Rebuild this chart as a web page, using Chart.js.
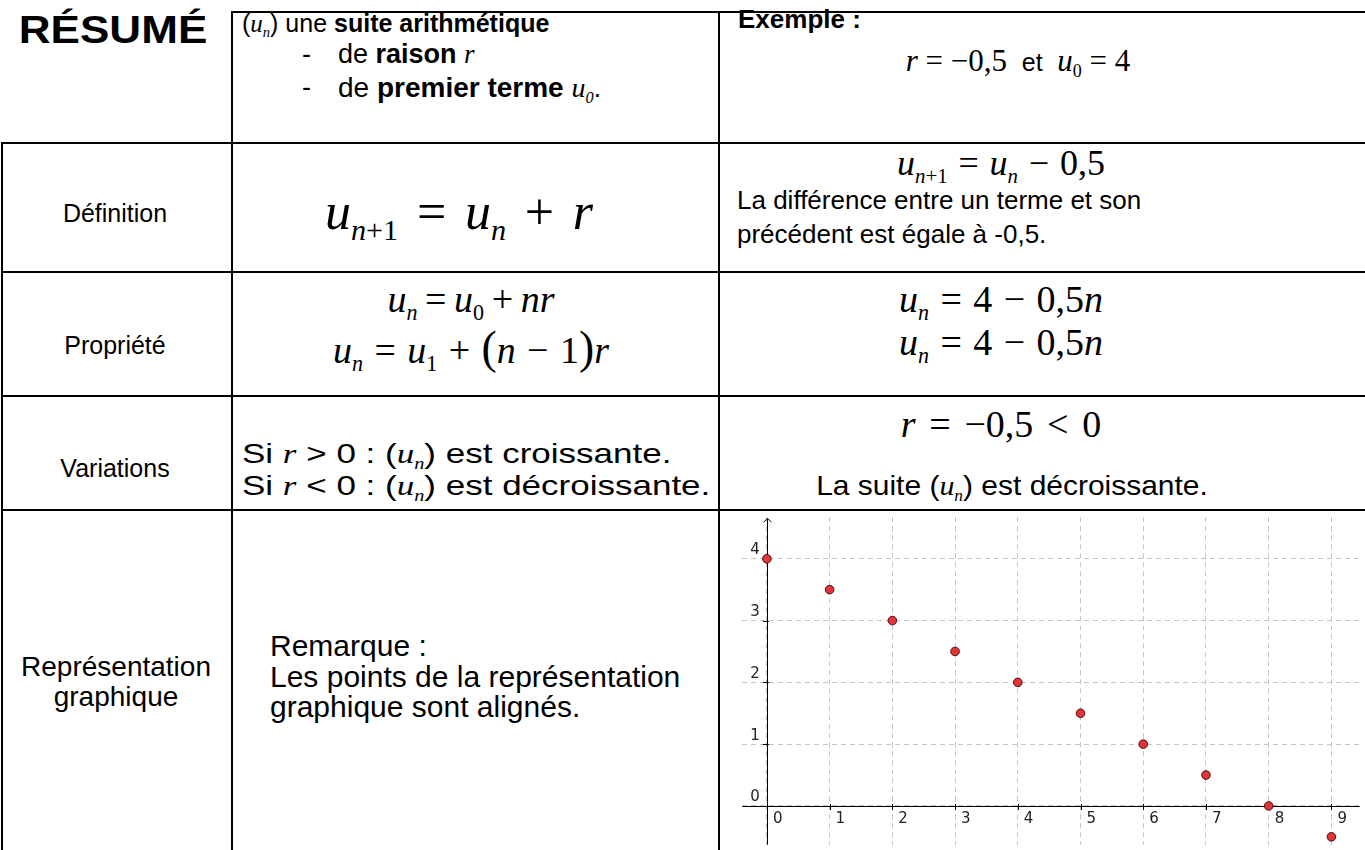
<!DOCTYPE html>
<html><head><meta charset="utf-8">
<script src="https://cdn.jsdelivr.net/npm/chart.js@4.4.0/dist/chart.umd.min.js"></script>
<style>
html,body{margin:0;padding:0;background:#fff;width:1365px;height:850px;overflow:hidden;}
body{position:relative;font-family:"Liberation Sans",Arial,sans-serif;color:#000;}
.ln{position:absolute;background:#000;}
.t{position:absolute;white-space:nowrap;font-size:25px;line-height:1;}
.c{transform:translateX(-50%);}
.m{font-family:"Liberation Serif","Times New Roman",serif;}
.m i,.mi{font-family:"Liberation Serif","Times New Roman",serif;font-style:italic;}
sub{font-size:58%;vertical-align:-0.36em;line-height:0;}
.sans{font-family:"Liberation Sans",Arial,sans-serif;}
.o{padding:0 .3em;}
.o1{padding:0 .2em;}
.o2{padding:0 .36em;}
b{font-weight:bold;}
#chartBox{position:absolute;left:737px;top:512px;width:628px;height:338px;}
</style></head>
<body>
<!-- table lines -->
<div class="ln" style="left:232px;top:11px;width:1133px;height:2px"></div>
<div class="ln" style="left:231px;top:11px;width:2px;height:839px"></div>
<div class="ln" style="left:718px;top:11px;width:2px;height:839px"></div>
<div class="ln" style="left:1px;top:142px;width:2px;height:708px"></div>
<div class="ln" style="left:1px;top:142px;width:1364px;height:2px"></div>
<div class="ln" style="left:1px;top:271px;width:1364px;height:2px"></div>
<div class="ln" style="left:1px;top:395px;width:1364px;height:2px"></div>
<div class="ln" style="left:1px;top:509px;width:1364px;height:2px"></div>

<!-- header -->
<div class="t" style="left:113px;top:10px;font-size:39px;font-weight:bold;transform:translateX(-50%) scaleX(1.13)">RÉSUMÉ</div>
<div class="t" style="left:242px;top:11px">(<span class="mi">u<sub>n</sub></span>) une <b>suite arithmétique</b></div>
<div class="t" style="left:302px;top:41px;font-size:27px">-</div>
<div class="t" style="left:338px;top:41px;font-size:27px">de <b>raison</b> <span class="mi">r</span></div>
<div class="t" style="left:302px;top:74px;font-size:27px">-</div>
<div class="t" style="left:338px;top:74px;font-size:28px">de <b>premier terme</b> <span class="mi">u<sub>0</sub></span>.</div>
<div class="t" style="left:738px;top:6px;font-weight:bold;font-size:26px">Exemple :</div>
<div class="t c m" style="left:1018px;top:45px;font-size:31px"><i>r</i> = −0,5 <span class="sans" style="font-size:25px">&nbsp;et&nbsp;</span> <i>u</i><sub>0</sub> = 4</div>

<!-- Définition -->
<div class="t c" style="left:115px;top:201px;font-size:25px">Définition</div>
<div class="t c m" style="left:459px;top:186px;font-size:52px"><i>u</i><sub><i>n</i>+1</sub><span class="o2">=</span><i>u</i><sub><i>n</i></sub><span class="o2">+</span><i>r</i></div>
<div class="t c m" style="left:1001px;top:145px;font-size:36px"><i>u</i><sub><i>n</i>+1</sub><span class="o">=</span><i>u</i><sub><i>n</i></sub><span class="o">−</span>0,5</div>
<div class="t" style="left:737px;top:187px;font-size:26px">La différence entre un terme et son</div>
<div class="t" style="left:737px;top:221px;font-size:26px">précédent est égale à -0,5.</div>

<!-- Propriété -->
<div class="t c" style="left:115px;top:333px;font-size:25px">Propriété</div>
<div class="t c m" style="left:471px;top:280px;font-size:38px"><i>u</i><sub><i>n</i></sub><span class="o1">=</span><i>u</i><sub>0</sub><span class="o1">+</span><i>nr</i></div>
<div class="t c m" style="left:471px;top:325px;font-size:38px"><i>u</i><sub><i>n</i></sub><span class="o">=</span><i>u</i><sub>1</sub><span class="o">+</span><span style="font-size:120%">(</span><i>n</i><span class="o">−</span>1<span style="font-size:120%">)</span><i>r</i></div>
<div class="t c m" style="left:1001px;top:280px;font-size:38px"><i>u</i><sub><i>n</i></sub><span class="o">=</span>4<span class="o">−</span>0,5<i>n</i></div>
<div class="t c m" style="left:1001px;top:323px;font-size:38px"><i>u</i><sub><i>n</i></sub><span class="o">=</span>4<span class="o">−</span>0,5<i>n</i></div>

<!-- Variations -->
<div class="t c" style="left:115px;top:456px;font-size:25px">Variations</div>
<div class="t" style="left:242px;top:440px;font-size:28px;transform-origin:0 0;transform:scaleX(1.25)">Si <span class="mi">r</span> &gt; 0 : (<span class="mi">u<sub>n</sub></span>) est croissante.</div>
<div class="t" style="left:242px;top:472px;font-size:28px;transform-origin:0 0;transform:scaleX(1.25)">Si <span class="mi">r</span> &lt; 0 : (<span class="mi">u<sub>n</sub></span>) est décroissante.</div>
<div class="t c m" style="left:1001px;top:405px;font-size:38px"><i>r</i><span class="o2">=</span>−0,5<span class="o2">&lt;</span>0</div>
<div class="t" style="left:1012px;top:472px;font-size:28px;transform:translateX(-50%) scaleX(1.07)">La suite (<span class="mi">u<sub>n</sub></span>) est décroissante.</div>

<!-- Représentation -->
<div class="t c" style="left:116px;top:653px;font-size:28px">Représentation</div>
<div class="t c" style="left:116px;top:683px;font-size:28px">graphique</div>
<div class="t" style="left:270px;top:631px;font-size:30px">Remarque :</div>
<div class="t" style="left:270px;top:662px;font-size:30px">Les points de la représentation</div>
<div class="t" style="left:270px;top:692px;font-size:30px">graphique sont alignés.</div>

<div id="chartBox"><canvas id="c" width="628" height="338"></canvas></div>

<script>
// ---- data ----
const nValues = [0, 1, 2, 3, 4, 5, 6, 7, 8, 9];
const uValues = [4, 3.5, 3, 2.5, 2, 1.5, 1, 0.5, 0, -0.5];
const xTickValues = [0, 1, 2, 3, 4, 5, 6, 7, 8, 9];
const xTickLabels = ['0', '1', '2', '3', '4', '5', '6', '7', '8', '9'];
const yTickValues = [0, 1, 2, 3, 4];
const yTickLabels = ['0', '1', '2', '3', '4'];
const xRange = [-0.392, 9.451];
const yRange = [-0.627, 4.671];

const points = nValues.map((n, i) => ({ x: n, y: uValues[i] }));

const geoAxes = {
  id: 'geoAxes',
  beforeDatasetsDraw(chart) {
    const ctx = chart.ctx;
    const xs = chart.scales.x, ys = chart.scales.y;
    const area = chart.chartArea;
    const ax = xs.getPixelForValue(0);
    const ay = ys.getPixelForValue(0);
    ctx.save();
    ctx.strokeStyle = '#000';
    ctx.lineWidth = 1;
    ctx.setLineDash([]);
    ctx.beginPath();
    ctx.moveTo(area.left, Math.round(ay) + 0.5);
    ctx.lineTo(area.right, Math.round(ay) + 0.5);
    ctx.stroke();
    ctx.beginPath();
    ctx.moveTo(Math.round(ax) + 0.5, area.bottom);
    ctx.lineTo(Math.round(ax) + 0.5, area.top + 1);
    ctx.stroke();
    ctx.beginPath();
    ctx.moveTo(Math.round(ax) - 3.5, area.top + 5);
    ctx.lineTo(Math.round(ax) + 0.5, area.top + 1);
    ctx.lineTo(Math.round(ax) + 4.5, area.top + 5);
    ctx.stroke();
    xTickValues.forEach(v => {
      if (v === 0) return;
      const px = Math.round(xs.getPixelForValue(v)) + 0.5;
      ctx.beginPath();
      ctx.moveTo(px, ay - 2);
      ctx.lineTo(px, ay + 4);
      ctx.stroke();
    });
    yTickValues.forEach(v => {
      if (v === 0) return;
      const py = Math.round(ys.getPixelForValue(v)) + 0.5;
      ctx.beginPath();
      ctx.moveTo(ax - 4, py);
      ctx.lineTo(ax + 2, py);
      ctx.stroke();
    });
    ctx.fillStyle = '#222';
    ctx.font = '15px "DejaVu Sans", sans-serif';
    ctx.textAlign = 'left';
    ctx.textBaseline = 'top';
    xTickValues.forEach((v, i) => {
      const px = xs.getPixelForValue(v);
      ctx.fillText(xTickLabels[i], px + 6, ay + 6);
    });
    ctx.textAlign = 'right';
    ctx.textBaseline = 'bottom';
    yTickValues.forEach((v, i) => {
      const py = ys.getPixelForValue(v);
      ctx.fillText(yTickLabels[i], ax - 7, py - 1);
    });
    ctx.restore();
  }
};

const gridOpts = (vals) => ({
  display: true,
  ticks: { display: false },
  grid: { color: '#c4c4c4', lineWidth: 1, drawTicks: false },
  border: { display: false, dash: [5, 4] },
  afterBuildTicks: (scale) => { scale.ticks = vals.map(v => ({ value: v })); }
});

const xOpts = Object.assign(gridOpts(xTickValues), { type: 'linear', min: xRange[0], max: xRange[1] });
const yOpts = Object.assign(gridOpts(yTickValues), { type: 'linear', min: yRange[0], max: yRange[1] });

new Chart(document.getElementById('c'), {
  type: 'scatter',
  data: {
    datasets: [{
      label: 'u_n',
      data: points,
      backgroundColor: '#e3343a',
      borderColor: '#4a0c0c',
      borderWidth: 1,
      pointRadius: 4.3,
      clip: false
    }]
  },
  options: {
    responsive: false,
    animation: false,
    devicePixelRatio: 1,
    layout: { padding: 0 },
    plugins: { legend: { display: false }, tooltip: { enabled: false } },
    scales: { x: xOpts, y: yOpts }
  },
  plugins: [geoAxes]
});
</script>
</body></html>
